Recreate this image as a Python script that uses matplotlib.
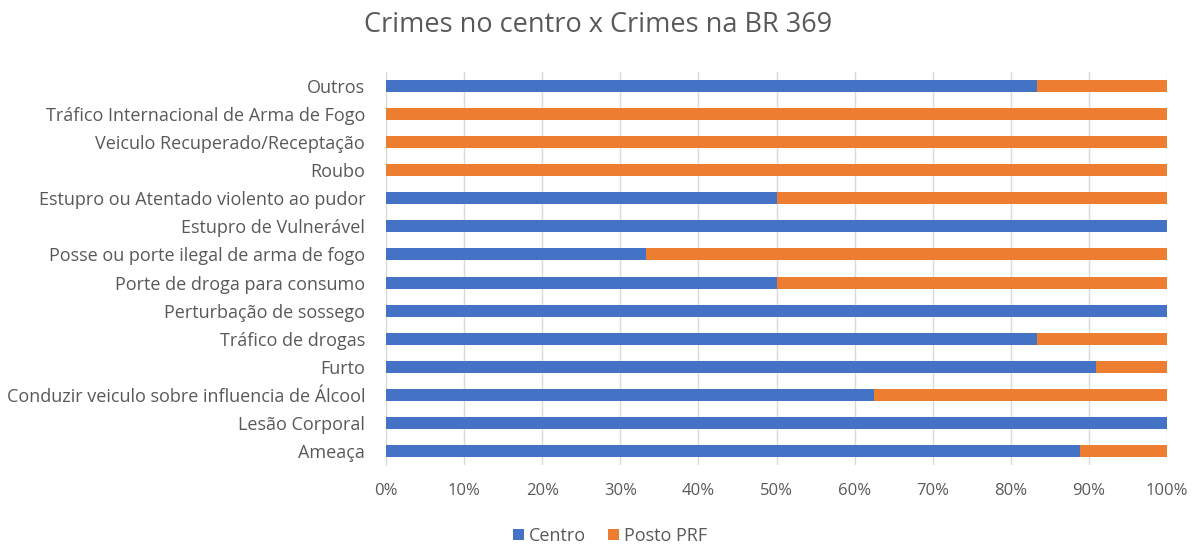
import matplotlib
matplotlib.use("Agg")
import matplotlib.pyplot as plt
from matplotlib.ticker import PercentFormatter

categories = [
    "Outros",
    "Tráfico Internacional de Arma de Fogo",
    "Veiculo Recuperado/Receptação",
    "Roubo",
    "Estupro ou Atentado violento ao pudor",
    "Estupro de Vulnerável",
    "Posse ou porte ilegal de arma de fogo",
    "Porte de droga para consumo",
    "Perturbação de sossego",
    "Tráfico de drogas",
    "Furto",
    "Conduzir veiculo sobre influencia de Álcool",
    "Lesão Corporal",
    "Ameaça",
]
centro = [83.3, 0, 0, 0, 50, 100, 33.3, 50, 100, 83.3, 90.9, 62.5, 100, 88.9]
posto_prf = [100 - c for c in centro]

plt.rcParams['font.family'] = ['Open Sans', 'DejaVu Sans']

fig = plt.figure(figsize=(11.96, 5.45), dpi=100)
ax = fig.add_axes([386/1196, 1 - 465/545, (1167-386)/1196, (465-72)/545])

y = list(range(len(categories)))
h = 0.43
ax.barh(y, centro, height=h, color="#4472C4", label="Centro", zorder=3)
ax.barh(y, posto_prf, left=centro, height=h, color="#ED7D31", label="Posto PRF", zorder=3)

ax.set_ylim(len(categories) - 0.5, -0.5)
ax.set_xlim(0, 100)
ax.set_yticks(y)
ax.set_yticklabels(categories, fontsize=13, color="#595959")
ax.set_xticks(range(0, 101, 10))
ax.xaxis.set_major_formatter(PercentFormatter(decimals=0))
ax.tick_params(axis='x', labelsize=12, labelcolor="#595959", length=0, pad=13)
ax.tick_params(axis='y', length=0, pad=15)
ax.grid(axis='x', color="#D9D9D9", linewidth=1, zorder=0)
for s in ['top', 'right', 'bottom']:
    ax.spines[s].set_visible(False)
ax.spines['left'].set_color("#D9D9D9")

fig.text(0.5, 1 - 25/545, "Crimes no centro x Crimes na BR 369", ha='center', va='center',
         fontsize=19.5, color="#595959")

fig.legend(loc='center', bbox_to_anchor=(610/1196, 1 - 536/545), ncol=2, frameon=False,
           fontsize=13, labelcolor="#595959", handlelength=0.6, handleheight=0.6,
           handletextpad=0.3, columnspacing=1.2)

fig.savefig("out.png", dpi=100)
